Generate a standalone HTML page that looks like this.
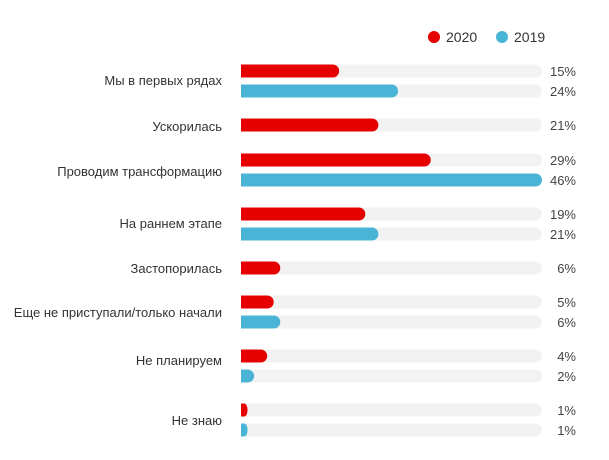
<!DOCTYPE html>
<html><head><meta charset="utf-8"><style>
body{margin:0;background:#fff;width:609px;height:460px;overflow:hidden}
svg{display:block;font-family:"Liberation Sans",sans-serif}
</style></head><body>
<svg id="chart" width="609" height="460">
<g id="legend">
<circle cx="434" cy="37" r="6" fill="#e60000"/>
<text x="446" y="42" font-size="14" fill="#333">2020</text>
<circle cx="502" cy="37" r="6" fill="#4ab4d6"/>
<text x="514" y="42" font-size="14" fill="#333">2019</text>
</g>
<g id="rows"></g>
</svg>
<script>
const categories=["Мы в первых  рядах","Ускорилась","Проводим трансформацию","На раннем этапе","Застопорилась","Еще не приступали/только  начали","Не планируем","Не знаю"];
const values2020=[15,21,29,19,6,5,4,1];
const values2019=[24,null,46,21,null,6,2,1];
const labelY=[80,126,171,223,268,312,360,420];
const barY2020=[71,125,160,214,268,302,356,410];
const barY2019=[91,null,180,234,null,322,376,430];
const x0=241,trackW=301,maxV=46,bh=13;
const xs=v=>v/maxV*trackW;
const svg=document.getElementById('rows');
const NS='http://www.w3.org/2000/svg';
function mk(t,a){const e=document.createElementNS(NS,t);for(const k in a)e.setAttribute(k,a[k]);svg.appendChild(e);return e;}
function bar(y,v,color,name){
  const tr=mk('rect',{x:x0,y:y-bh/2,width:trackW,height:bh,rx:bh/2,fill:'#f2f2f2'});
  
  
  const tr2=mk('rect',{x:x0,y:y-bh/2,width:bh,height:bh,fill:'#f2f2f2'});
  
  
  const w=xs(v);
  const b=mk('rect',{x:x0,y:y-bh/2,width:w,height:bh,rx:Math.min(bh/2,w),fill:color});
  
  
  const b2=mk('rect',{x:x0,y:y-bh/2,width:Math.min(w/2,bh/2),height:bh,fill:color});
  
  
  const t=mk('text',{x:576,y:y+5,'font-size':13,fill:'#444','text-anchor':'end'});
  t.textContent=v+'%';
  
  
}
categories.forEach((c,i)=>{
  const l=mk('text',{x:222,y:labelY[i]+5,'font-size':13,fill:'#333','text-anchor':'end','xml:space':'preserve'});
  l.textContent=c;
  
  
  if(values2020[i]!=null)bar(barY2020[i],values2020[i],'#e60000','bar-2020');
  if(values2019[i]!=null)bar(barY2019[i],values2019[i],'#4ab4d6','bar-2019');
});
</script>
</body></html>
